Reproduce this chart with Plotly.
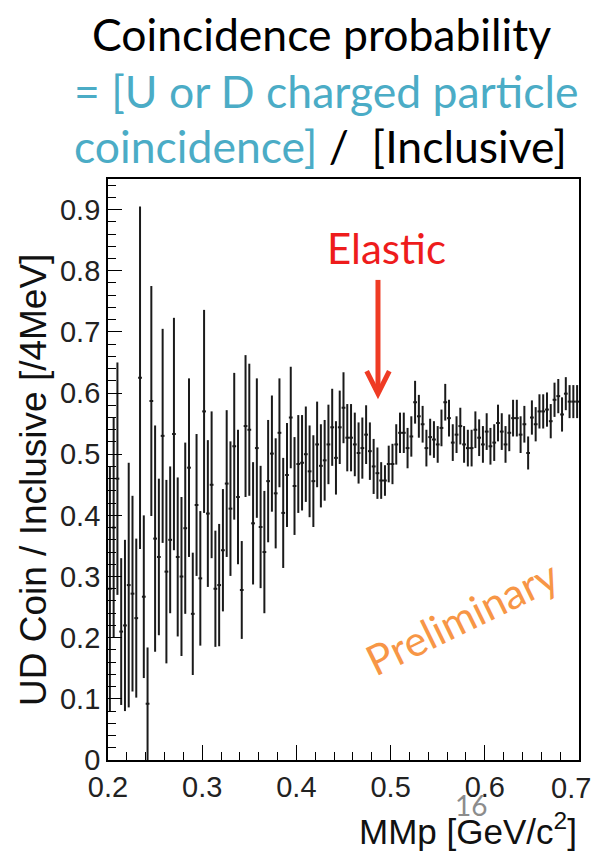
import numpy as np
import plotly.graph_objects as go

# Histogram binning: 4 MeV bins over MMp = 0.2 .. 0.7 GeV/c^2
bin_lo, bin_hi, bin_w = 0.2, 0.7, 0.004
n_bins = int(round((bin_hi - bin_lo) / bin_w))
centers = bin_lo + bin_w * (np.arange(n_bins) + 0.5)

# UD coincidence / inclusive ratio per bin
ratio = [
    0.28, 0.38, 0.46, 0.21, 0.22, 0.286, 0.272, 0.232, 0.625, 0.267,
    0.092, 0.587, 0.362, 0.332, 0.53, 0.308, 0.36, 0.533, 0.332, 0.30,
    0.379, 0.478, 0.239, 0.417, 0.297, 0.570, 0.403, 0.45, 0.28, 0.286,
    0.343, 0.452, 0.411, 0.513, 0.43, 0.278, 0.546, 0.540, 0.387, 0.51,
    0.381, 0.34, 0.456, 0.501, 0.436, 0.535, 0.404, 0.466, 0.56, 0.448,
    0.484, 0.486, 0.50, 0.472, 0.456, 0.516, 0.481, 0.49, 0.516, 0.544,
    0.494, 0.544, 0.576, 0.527, 0.527, 0.516, 0.502, 0.51, 0.532, 0.505,
    0.48, 0.469, 0.457, 0.457, 0.484, 0.484, 0.516, 0.535, 0.535, 0.51,
    0.529, 0.585, 0.562, 0.549, 0.51, 0.528, 0.524, 0.516, 0.543, 0.585,
    0.559, 0.519, 0.532, 0.546, 0.516, 0.51, 0.51, 0.540, 0.527, 0.516,
    0.537, 0.513, 0.519, 0.551, 0.537, 0.516, 0.535, 0.559, 0.559, 0.532,
    0.549, 0.502, 0.56, 0.549, 0.57, 0.57, 0.573, 0.554, 0.589, 0.595,
    0.565, 0.599, 0.586, 0.586, 0.586,
]

# Statistical uncertainty per bin
ratio_err = [
    0.20, 0.18, 0.19, 0.12, 0.14, 0.20, 0.16, 0.13, 0.28, 0.133,
    0.092, 0.188, 0.185, 0.128, 0.175, 0.15, 0.12, 0.19, 0.13, 0.13,
    0.14, 0.146, 0.10, 0.116, 0.11, 0.166, 0.12, 0.12, 0.095, 0.10,
    0.10, 0.12, 0.11, 0.12, 0.11, 0.08, 0.116, 0.108, 0.10, 0.114,
    0.10, 0.10, 0.10, 0.095, 0.09, 0.089, 0.09, 0.085, 0.083, 0.08,
    0.08, 0.078, 0.078, 0.075, 0.075, 0.07, 0.068, 0.066, 0.065, 0.063,
    0.06, 0.06, 0.058, 0.055, 0.055, 0.052, 0.05, 0.05, 0.048, 0.047,
    0.045, 0.042, 0.03, 0.025, 0.03, 0.033, 0.033, 0.033, 0.033, 0.033,
    0.033, 0.035, 0.035, 0.03, 0.03, 0.03, 0.03, 0.03, 0.03, 0.03,
    0.03, 0.03, 0.03, 0.03, 0.03, 0.03, 0.03, 0.03, 0.03, 0.03,
    0.03, 0.03, 0.03, 0.03, 0.03, 0.03, 0.03, 0.03, 0.03, 0.03,
    0.03, 0.027, 0.028, 0.028, 0.028, 0.028, 0.028, 0.028, 0.028, 0.028,
    0.028, 0.027, 0.027, 0.027, 0.027,
]

x_ticks = [0.2, 0.3, 0.4, 0.5, 0.6, 0.7]
x_tick_text = ["0.2", "0.3", "0.4", "0.5", "0.6", "0.7"]
y_ticks = [0, 0.1, 0.2, 0.3, 0.4, 0.5, 0.6, 0.7, 0.8, 0.9]
y_tick_text = ["0", "0.1", "0.2", "0.3", "0.4", "0.5", "0.6", "0.7", "0.8", "0.9"]

INK = "#1a1a1a"
AQUA = "#4BACC6"
ROOT_FONT = "Liberation Sans, Arial, Helvetica, sans-serif"
SLIDE_FONT = "Lato, Open Sans, sans-serif"
TICK_FONT = dict(family=ROOT_FONT, size=29, color="#222")

fig = go.Figure()
fig.add_trace(go.Scatter(
    x=centers, y=ratio, mode="markers",
    marker=dict(size=1, color="rgba(0,0,0,0)"),
    error_x=dict(type="constant", value=bin_w / 2, width=0, thickness=2, color=INK),
    error_y=dict(type="data", array=ratio_err, width=0, thickness=2, color=INK),
    hoverinfo="x+y",
))

axis_common = dict(
    ticks="inside", tickcolor="black", tickwidth=1.3,
    showline=True, linecolor="black", linewidth=1.8, mirror=True,
    showgrid=False, zeroline=False,
    tickfont=TICK_FONT,
    ticklabelstandoff=0,
    automargin=False,
)

# The last x label sits flush with the frame edge, so it is placed by hand
fig.update_layout(
    width=595, height=853, autosize=False,
    margin=dict(l=108, r=16, t=179, b=93),
    paper_bgcolor="white", plot_bgcolor="white",
    showlegend=False,
    xaxis=dict(range=[bin_lo, bin_hi + 1e-6], tickvals=x_ticks,
               ticktext=x_tick_text[:-1] + [""], ticklen=15,
               minor=dict(dtick=0.02, tick0=0, ticks="inside", ticklen=8,
                          tickwidth=1.3, tickcolor="black", showgrid=False),
               **axis_common),
    yaxis=dict(range=[0, 0.95], tickvals=y_ticks,
               ticktext=y_tick_text, ticklen=14,
               minor=dict(dtick=0.02, tick0=0, ticks="inside", ticklen=8,
                          tickwidth=1.3, tickcolor="black", showgrid=False),
               **axis_common),
)
fig.add_annotation(text=x_tick_text[-1], x=x_ticks[-1], xref="x", y=0, yref="paper",
                   xanchor="right", yanchor="middle", xshift=14, yshift=-28,
                   showarrow=False, font=TICK_FONT)

# Axis titles
fig.add_annotation(text="UD Coin / Inclusive [/4MeV]", xref="paper", yref="paper",
                   x=-0.157, y=0.482, textangle=-90, showarrow=False,
                   font=dict(family=ROOT_FONT, size=37, color="#111"),
                   xanchor="center", yanchor="middle")
fig.add_annotation(text="MMp [GeV/c<sup>2</sup>]", xref="paper", yref="paper",
                   x=1.0, y=-0.119, showarrow=False, xanchor="right", yanchor="middle",
                   font=dict(family=ROOT_FONT, size=35, color="#111"))

# Slide heading
fig.add_annotation(text="Coincidence probability", xref="paper", yref="paper",
                   x=0.454, y=1.250, showarrow=False, xanchor="center", yanchor="middle",
                   font=dict(family=SLIDE_FONT, size=44.5, color="black"))
fig.add_annotation(text="= [U or D charged particle", xref="paper", yref="paper",
                   x=-0.076, y=1.152, showarrow=False, xanchor="left", yanchor="middle",
                   font=dict(family=SLIDE_FONT, size=44.5, color=AQUA))
fig.add_annotation(text=f'<span style="color:{AQUA}">coincidence]</span> /\u00a0 [Inclusive]',
                   xref="paper", yref="paper",
                   x=-0.076, y=1.058, showarrow=False, xanchor="left", yanchor="middle",
                   font=dict(family=SLIDE_FONT, size=44.5, color="black"))

# Elastic peak marker
elastic_x = 0.4866
fig.add_annotation(text="Elastic", x=0.496, y=0.838, xref="x", yref="y",
                   xanchor="center", yanchor="middle", showarrow=False,
                   font=dict(family=SLIDE_FONT, size=42, color="#EE1C1C"))
arrow_color = "#EF3B24"
fig.add_shape(type="line", xref="x", yref="y", x0=elastic_x, x1=elastic_x,
              y0=0.785, y1=0.603, line=dict(color=arrow_color, width=5))
fig.add_shape(type="path", xref="x", yref="y",
              path=f"M {elastic_x - 0.012},0.636 L {elastic_x},0.599 L {elastic_x + 0.012},0.636",
              line=dict(color=arrow_color, width=5))

# Watermark
fig.add_annotation(text="Preliminary", x=0.576, y=0.234, xref="x", yref="y",
                   xanchor="center", yanchor="middle",
                   textangle=-26, showarrow=False,
                   font=dict(family=SLIDE_FONT, size=42, color="#F79646"))

# Slide number
fig.add_annotation(text="16", xref="paper", yref="paper", x=0.770, y=-0.078,
                   xanchor="center", yanchor="middle",
                   showarrow=False, font=dict(family=SLIDE_FONT, size=28, color="#8c8c8c"))

fig.write_html("out.html")
